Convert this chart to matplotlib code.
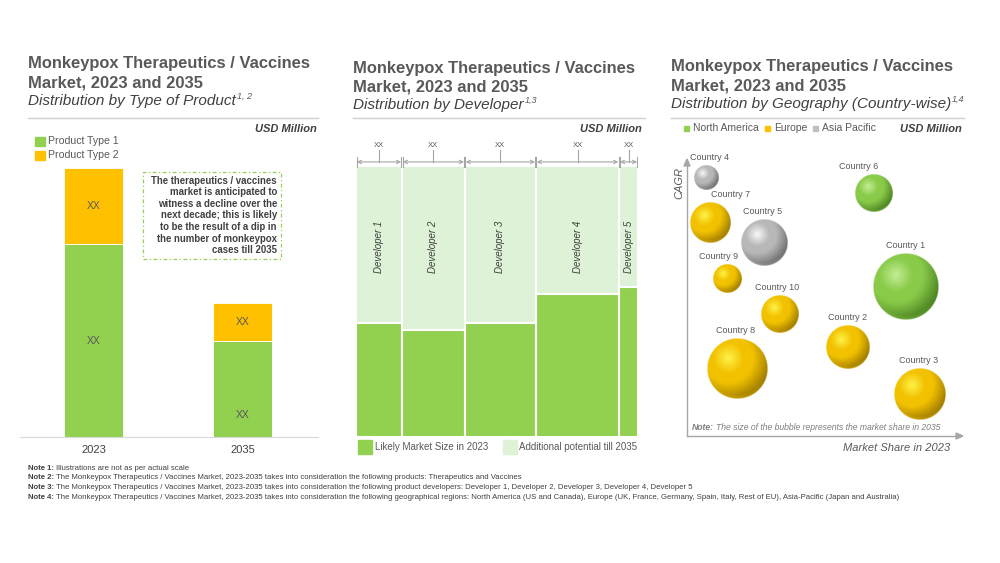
import numpy as np
import matplotlib; matplotlib.use("Agg")
import matplotlib.pyplot as plt
from matplotlib.patches import Rectangle
from matplotlib.colors import to_rgb

plt.rcParams["font.family"] = ["Liberation Sans", "DejaVu Sans"]

W, H = 1000, 563
GREEN   = "#92D050"
LGREEN  = "#DDF2D6"
YELLOW  = "#FFC000"
GRAY_TX = "#595959"
DARK_TX = "#404040"
AXGRAY  = "#A6A6A6"

# ---- panel 1 : type of product
years      = ["2023", "2035"]
prod_type1 = [193, 96]
prod_type2 = [76, 38]
xx_pos1    = [0.5, 0.23]   # where the "XX" sits inside the green block

# ---- panel 2 : developers (marimekko)
developers   = ["Developer 1", "Developer 2", "Developer 3", "Developer 4", "Developer 5"]
dev_width    = [16.3, 22.3, 25.2, 29.5, 6.7]
dev_likely23 = [42.0, 39.5, 42.0, 52.8, 55.4]

# ---- panel 3 : geography bubbles
countries  = ["Country 1", "Country 2", "Country 3", "Country 4", "Country 5",
              "Country 6", "Country 7", "Country 8", "Country 9", "Country 10"]
region     = ["na", "eu", "eu", "ap", "ap", "na", "eu", "eu", "eu", "eu"]
share_2023 = [79.6, 58.5, 84.7, 6.9, 28.0, 68.0, 8.4, 18.2, 14.5, 33.8]
cagr       = [54.0, 32.2, 15.2, 93.5, 70.0, 88.0, 77.2, 24.3, 56.9, 44.2]
share_2035 = [100, 44, 62, 14, 49, 33, 37, 83, 18, 33]
label_dx   = [0, 0, -1, 4, -1, -15, 20, -1, -8, -3]   # label nudges, px

SPHERE = {"na": ("#C4EE94", "#8ACB4A", "#457A1C"),
          "eu": ("#FFF24A", "#F2C200", "#967400"),
          "ap": ("#F8F8F8", "#B8B8B8", "#666666")}

fig = plt.figure(figsize=(W/100, H/100), dpi=100)
fig.patch.set_facecolor("white")

def fx(x): return x/W
def fy(y): return 1 - y/H

def px_axes(x0, y0, x1, y1):
    ax = fig.add_axes([fx(x0), fy(y1), (x1-x0)/W, (y1-y0)/H])
    ax.set_facecolor("none")
    return ax

def ftext(x, y, s, **kw):
    return fig.text(fx(x), fy(y), s, **kw)

renderer = fig.canvas.get_renderer()

def text_right_edge(t):
    bb = t.get_window_extent(renderer=renderer)
    return bb.x1 / fig.dpi * 100   # pixels

def header(x, y0, sub, sup, line_x1):
    ftext(x, y0, "Monkeypox Therapeutics / Vaccines", fontsize=11.9, fontweight="bold",
          color=GRAY_TX, va="center")
    ftext(x, y0+19, "Market, 2023 and 2035", fontsize=11.9, fontweight="bold",
          color=GRAY_TX, va="center")
    t = ftext(x, y0+37, sub, fontsize=11, style="italic", color=DARK_TX, va="center")
    xr = text_right_edge(t)
    ftext(xr+1, y0+32, sup, fontsize=6.5, style="italic", color=GRAY_TX, va="center")
    fig.add_artist(plt.Line2D([fx(x), fx(line_x1)], [fy(118), fy(118)],
                              color="#D0D0D0", lw=1))

# ================= panel 1 =================
header(28, 64, "Distribution by Type of Product", "1, 2", 318)
ftext(317, 129, "USD Million", fontsize=8, fontweight="bold", style="italic",
      color=DARK_TX, ha="right", va="center")
ax1 = px_axes(20, 140, 318, 437)
xs = np.arange(len(years))
ax1.bar(xs, prod_type1, width=0.396, color=GREEN, edgecolor="white", lw=0.6)
ax1.bar(xs, prod_type2, bottom=prod_type1, width=0.396, color=YELLOW,
        edgecolor="white", lw=0.6)
for i in range(len(years)):
    ax1.text(xs[i], prod_type1[i]*xx_pos1[i], "XX", ha="center", va="center",
             fontsize=7.5, color=GRAY_TX)
    ax1.text(xs[i], prod_type1[i]+prod_type2[i]/2, "XX", ha="center", va="center",
             fontsize=7.5, color=GRAY_TX)
ax1.set_xlim(-0.493, 1.507); ax1.set_ylim(0, 297)
ax1.set_yticks([]); ax1.set_xticks(xs); ax1.set_xticklabels(years, fontsize=8, color=DARK_TX)
ax1.tick_params(axis="x", length=0, pad=6)
for s in ["top", "right", "left"]: ax1.spines[s].set_visible(False)
ax1.spines["bottom"].set_color("#D9D9D9")
# legend
for k, (lab, c) in enumerate([("Product Type 1", GREEN), ("Product Type 2", YELLOW)]):
    fig.add_artist(Rectangle((fx(35), fy(146+14*k)), 10/W, 9/H, color=c, transform=fig.transFigure))
    ftext(48, 141.5+14*k, lab, fontsize=7.6, color=GRAY_TX, va="center")
# comment box
fig.add_artist(Rectangle((fx(143), fy(259)), 138/W, 87/H, transform=fig.transFigure,
                         fill=False, ec=GREEN, lw=0.9, ls=(0, (3, 2, 1, 2))))
ftext(277, 215.5, "The therapeutics / vaccines\nmarket is anticipated to\nwitness a decline over the\n"
      "next decade; this is likely\nto be the result of a dip in\nthe number of monkeypox\ncases till 2035",
      fontsize=6.95, fontweight="bold", color=DARK_TX, ha="right", va="center", linespacing=1.2)

# ================= panel 2 =================
header(353, 68, "Distribution by Developer", "1,3", 645)
ftext(642, 129, "USD Million", fontsize=8, fontweight="bold", style="italic",
      color=DARK_TX, ha="right", va="center")
ax2 = px_axes(356, 140, 638, 437)
lefts = np.concatenate([[0], np.cumsum(dev_width)[:-1]])
ax2.bar(lefts, [100]*len(developers), width=dev_width, align="edge", color=LGREEN,
        edgecolor="white", lw=1.5)
ax2.bar(lefts, dev_likely23, width=dev_width, align="edge", color=GREEN,
        edgecolor="white", lw=1.5)
ytop = 297/271*100
for l, w, name in zip(lefts, dev_width, developers):
    c = l + w/2
    ax2.annotate("", xy=(l+w-0.3, 101.5), xytext=(l+0.3, 101.5),
                 arrowprops=dict(arrowstyle="<->", color=AXGRAY, lw=0.8,
                                 shrinkA=0, shrinkB=0, mutation_scale=6))
    ax2.plot([l+0.2, l+0.2], [99.8, 103.3], color=AXGRAY, lw=0.8)
    ax2.plot([l+w-0.2, l+w-0.2], [99.8, 103.3], color=AXGRAY, lw=0.8)
    ax2.plot([c, c], [101.5, 106.0], color=AXGRAY, lw=0.8)
    ax2.text(c, 107.6, "XX", ha="center", va="center", fontsize=5.5, color=GRAY_TX)
    ax2.text(c, 70, name, rotation=90, ha="center", va="center", fontsize=7,
             style="italic", color=DARK_TX)
ax2.set_xlim(0, sum(dev_width)); ax2.set_ylim(0, ytop)
ax2.axis("off")
fig.add_artist(Rectangle((fx(358), fy(454)), 14/W, 14/H, color=GREEN, transform=fig.transFigure))
ftext(375, 447, "Likely Market Size in 2023", fontsize=7.0, color=GRAY_TX, va="center")
fig.add_artist(Rectangle((fx(503), fy(454)), 14/W, 14/H, color=LGREEN, transform=fig.transFigure))
ftext(519, 447, "Additional potential till 2035", fontsize=7.0, color=GRAY_TX, va="center")

# ================= panel 3 =================
header(671, 67, "Distribution by Geography (Country-wise)", "1,4", 964)
ftext(962, 129, "USD Million", fontsize=8, fontweight="bold", style="italic",
      color=DARK_TX, ha="right", va="center")
leg = [("North America", GREEN, 684), ("Europe", YELLOW, 765), ("Asia Pacific", "#BFBFBF", 813)]
for lab, c, x in leg:
    fig.add_artist(Rectangle((fx(x), fy(131)), 5/W, 5/H, color=c, transform=fig.transFigure))
    ftext(x+9, 128, lab, fontsize=7.5, color=GRAY_TX, va="center")

X0, Y0, X1, Y1 = 687, 160, 962, 436
ax3 = px_axes(X0, Y0, X1, Y1)
ax3.set_xlim(0, 100); ax3.set_ylim(0, 100)
ax3.axis("off")
ppx = (X1-X0)/100; ppy = (Y1-Y0)/100

def sphere(ax, cx, cy, r_px, kind, z):
    light, base, dark = [np.array(to_rgb(c)) for c in SPHERE[kind]]
    n = 160
    u = np.linspace(-1, 1, n)
    U, V = np.meshgrid(u, u[::-1])
    R = np.sqrt(U**2 + V**2)
    d = np.sqrt((U+0.3)**2 + (V-0.35)**2)
    t = np.clip(d/1.45, 0, 1)
    img = np.zeros((n, n, 4))
    a = np.clip(t/0.35, 0, 1)[..., None]
    b = np.clip((t-0.55)/0.45, 0, 1)[..., None]**1.1
    col = light*(1-a) + base*a
    col = col*(1-b) + dark*b
    rim = (np.clip((R-0.85)/0.15, 0, 1)*np.clip(-V-0.3, 0, 1))[..., None]
    col = col*(1-0.7*rim) + base*0.7*rim
    img[..., :3] = np.clip(col, 0, 1)
    img[..., 3] = np.clip((1-R)*n/2.5, 0, 1)
    rx, ry = r_px/ppx, r_px/ppy
    ax.imshow(img, extent=(cx-rx, cx+rx, cy-ry, cy+ry), origin="upper",
              interpolation="bilinear", aspect="auto", zorder=z)
    return ry

order = np.argsort(share_2035)[::-1]
for z, i in enumerate(order):
    r_px = 3.3*np.sqrt(share_2035[i])
    ry = sphere(ax3, share_2023[i], cagr[i], r_px, region[i], 3+z)
    ax3.text(share_2023[i] + label_dx[i]/ppx, cagr[i]+ry+8/ppy, countries[i],
             ha="center", va="center", fontsize=6.5, color=GRAY_TX, zorder=20)
ax3.set_xlim(0, 100); ax3.set_ylim(0, 100)

# axes arrows
fig.add_artist(plt.Line2D([fx(X0), fx(X0)], [fy(Y1), fy(Y0+4)], color=AXGRAY, lw=1))
fig.add_artist(plt.Line2D([fx(X0), fx(X1-4)], [fy(Y1), fy(Y1)], color=AXGRAY, lw=1))
fig.add_artist(plt.Polygon([[fx(X0-3), fy(Y0+6)], [fx(X0+3), fy(Y0+6)], [fx(X0), fy(Y0-1)]],
                           closed=True, color=AXGRAY, transform=fig.transFigure))
fig.add_artist(plt.Polygon([[fx(X1-6), fy(Y1-3)], [fx(X1-6), fy(Y1+3)], [fx(X1+1), fy(Y1)]],
                           closed=True, color=AXGRAY, transform=fig.transFigure))
ftext(679, 183, "CAGR", rotation=90, fontsize=8, style="italic", color=GRAY_TX,
      ha="center", va="center")
ftext(950, 448, "Market Share in 2023", fontsize=8, style="italic", color=GRAY_TX,
      ha="right", va="center")
t = ftext(692, 428, "Note:", fontsize=6.2, fontweight="bold", style="italic", color="#7F7F7F",
          va="center")
ftext(text_right_edge(t)+2, 428, "The size of the bubble represents the market share in 2035",
      fontsize=6.2, style="italic", color="#7F7F7F", va="center")

# ================= footnotes =================
notes = ["Illustrations are not as per actual scale",
         "The Monkeypox Therapeutics / Vaccines Market, 2023-2035 takes into consideration the following products: Therapeutics and Vaccines",
         "The Monkeypox Therapeutics / Vaccines Market, 2023-2035 takes into consideration the following product developers: Developer 1, Developer 2, Developer 3, Developer 4, Developer 5",
         "The Monkeypox Therapeutics / Vaccines Market, 2023-2035 takes into consideration the following geographical regions: North America (US and Canada), Europe (UK, France, Germany, Spain, Italy, Rest of EU), Asia-Pacific (Japan and Australia)"]
for k, n in enumerate(notes):
    y = 468 + 9.7*k
    t = ftext(28, y, f"Note {k+1}:", fontsize=5.6, fontweight="bold", color=DARK_TX, va="center")
    ftext(text_right_edge(t)+2, y, n, fontsize=5.6, color=DARK_TX, va="center")

fig.savefig("out.png", dpi=100)
